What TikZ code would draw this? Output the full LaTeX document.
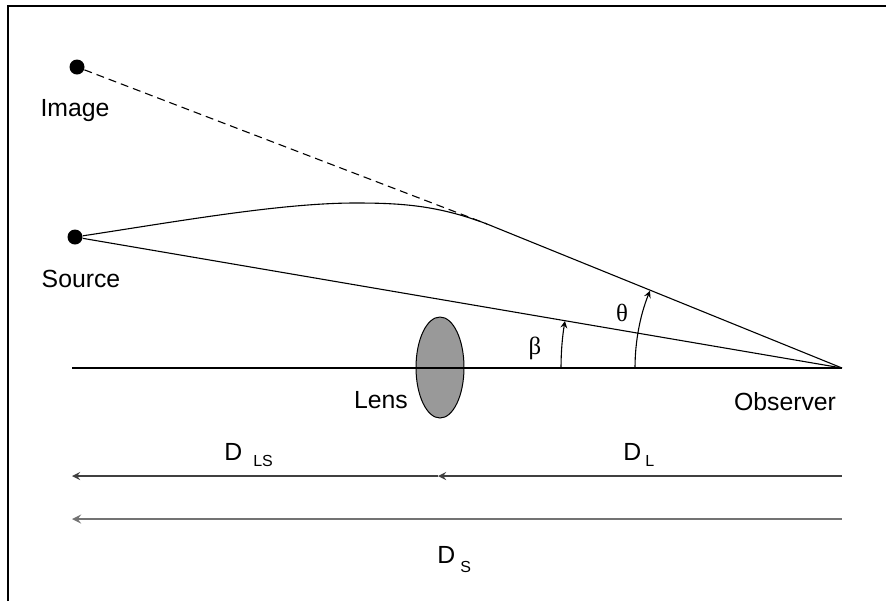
\documentclass[tikz,border=0pt]{standalone}
\usepackage{fontspec}
\setmainfont{Liberation Sans}
\newfontfamily\greekfont{Liberation Serif}
\usetikzlibrary{calc,shapes.geometric,arrows}

\begin{document}
\begin{tikzpicture}[
    x=0.5pt, y=-0.5pt,
    every node/.style={font=\fontsize{12.4}{14}\selectfont},
    dot/.style={circle, fill=black, inner sep=0pt, minimum size=7.5pt},
    ray/.style={line width=0.55pt},
    anglearc/.style={->, >=stealth, line width=0.55pt},
    distarrow/.style={<-, >=stealth, line width=0.8pt},
    sub/.style={font=\fontsize{8}{9}\selectfont},
]
\useasboundingbox (0,0) rectangle (886,601);

% Frame (only the top and left edges are inside the picture)
\draw[line width=1.1pt] (8,601) -- (8,6) -- (886,6);

% Lens, drawn first so the axis runs across it
\node[ellipse, draw, fill=black!40, line width=0.5pt, inner sep=0pt,
      minimum width=24pt, minimum height=50.5pt] (lens) at (440,367.5) {};

% Points and fixed spots
\node[dot] (img) at (77,67) {};
\node[dot] (src) at (75,237) {};
\coordinate (obs) at (842,368);
\coordinate (axisL) at (72,368);
\coordinate (peak) at (355,203);
\coordinate (tang) at (487,224);

% Axis, direct ray, bent ray and its backward extension
\draw[ray] (axisL) -- (obs);
\draw[ray] (src) -- (obs);
\draw[ray] (src) .. controls (174,222) and (280,203) .. (peak)
    .. controls (400,203) and (437,205) .. (tang) -- (obs);
\draw[ray, dash pattern=on 4pt off 2.5pt] (img) -- (tang);

% Angles at the observer
\draw[anglearc] ($(obs)+(-281,0)$) arc[start angle=180, end angle=189.62, radius=281];
\draw[anglearc] ($(obs)+(-207,0)$) arc[start angle=180, end angle=201.9, radius=207];
\node (beta) at (535,348) {\greekfont β};
\node (theta) at (622,313) {\greekfont θ};

% Labels
\node[anchor=base] (imglabel) at (75,116) {Image};
\node[anchor=base] (srclabel) at (81,287) {Source};
\node[anchor=base] (lenslabel) at (381,408) {Lens};
\node[anchor=base] (obslabel) at (785,410) {Observer};

% Distances
\coordinate (dlR) at (842,476);
\coordinate (dlM) at (438,476);
\coordinate (dlL) at (72,476);
\coordinate (dsR) at (842,519);
\coordinate (dsL) at (72,519);
\draw[distarrow, black!75] (dlM) -- (dlR);
\draw[distarrow, black!75] (dlL) -- (dlM);
\draw[distarrow, black!55, line width=1pt] (dsL) -- (dsR);

\node[anchor=base west, inner sep=0pt] (dls) at (224,460)
    {D\hspace{5.5pt}\raisebox{-3pt}{\fontsize{8}{9}\selectfont LS}};
\node[anchor=base west, inner sep=0pt] (dl) at (623,460)
    {D\hspace{2pt}\raisebox{-3pt}{\fontsize{8}{9}\selectfont L}};
\node[anchor=base west, inner sep=0pt] (ds) at (437,563)
    {D\hspace{2.5pt}\raisebox{-4.5pt}{\fontsize{8}{9}\selectfont S}};

\end{tikzpicture}
\end{document}
